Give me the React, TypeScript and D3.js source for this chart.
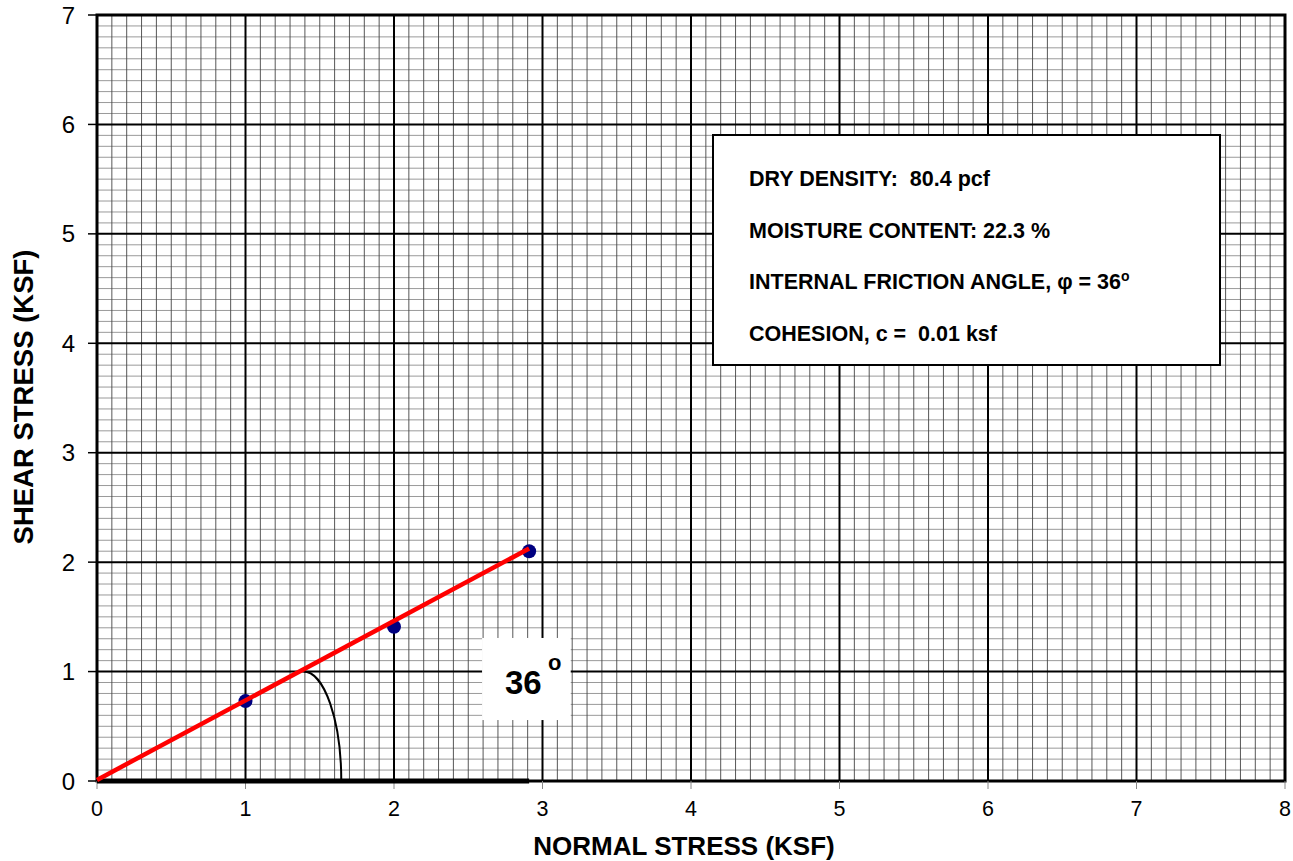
import React from "react";
import * as d3 from "d3";

// Direct shear test results
const normalStress = [1.0, 2.0, 2.91]; // ksf
const shearStress = [0.73, 1.41, 2.1]; // ksf
const frictionAngleDeg = 36;
const cohesion = 0.01; // ksf
const xTicks = [0, 1, 2, 3, 4, 5, 6, 7, 8];
const yTicks = [0, 1, 2, 3, 4, 5, 6, 7];
const infoLines = [
  "DRY DENSITY:  80.4 pcf",
  "MOISTURE CONTENT: 22.3 %",
  "INTERNAL FRICTION ANGLE, \u03c6 = 36",
  "COHESION, c =  0.01 ksf",
];

const W = 1293;
const H = 861;
const FONT = "Arial, 'Liberation Sans', Helvetica, sans-serif";

export default function App() {
  const x = d3.scaleLinear().domain([0, 8]).range([97, 1285]);
  const y = d3.scaleLinear().domain([0, 7]).range([781, 15]);

  const minorX = d3.range(0, 80 + 1).map((i) => i / 10).filter((v) => Math.abs(v - Math.round(v)) > 1e-6);
  const minorY = d3.range(0, 70 + 1).map((i) => i / 10).filter((v) => Math.abs(v - Math.round(v)) > 1e-6);

  const tanPhi = Math.tan((frictionAngleDeg * Math.PI) / 180);
  const xEnd = d3.max(normalStress) as number;
  const envelope = d3
    .line<number>()
    .x((d) => x(d))
    .y((d) => y(cohesion + d * tanPhi));

  // angle arc marker near the envelope
  const arcCx = 1.39;
  const arcRx = x(0.255) - x(0);
  const arcRy = y(0) - y(1.0);
  const arcPath = `M${x(arcCx)},${y(1.0)} A${arcRx},${arcRy} 0 0 1 ${x(arcCx + 0.255)},${y(0)}`;

  const pre = { whiteSpace: "pre" as const };

  return (
    <svg width={W} height={H} style={{ display: "block", position: "absolute", left: 0, top: 0 }} fontFamily={FONT}>
      <rect x={0} y={0} width={W} height={H} fill="#fff" />
      {/* minor grid */}
      {minorY.map((v) => (
        <line key={"my" + v} x1={x(0)} x2={x(8)} y1={y(v)} y2={y(v)} stroke="#9a9a9a" strokeWidth={1} />
      ))}
      {minorX.map((v) => (
        <line key={"mx" + v} x1={x(v)} x2={x(v)} y1={y(0)} y2={y(7)} stroke="#444" strokeWidth={0.9} />
      ))}
      {/* major grid */}
      {yTicks.map((v) => (
        <line key={"gy" + v} x1={x(0)} x2={x(8)} y1={y(v)} y2={y(v)} stroke="#000" strokeWidth={2} />
      ))}
      {xTicks.map((v) => (
        <line key={"gx" + v} x1={x(v)} x2={x(v)} y1={y(0)} y2={y(7)} stroke="#000" strokeWidth={2} />
      ))}
      {/* plot frame */}
      <rect x={x(0)} y={y(7)} width={x(8) - x(0)} height={y(0) - y(7)} fill="none" stroke="#000" strokeWidth={3} />
      {/* ticks */}
      {yTicks.map((v) => (
        <line key={"ty" + v} x1={x(0) - 9} x2={x(0)} y1={y(v)} y2={y(v)} stroke="#000" strokeWidth={1.5} />
      ))}
      {xTicks.map((v) => (
        <line key={"tx" + v} x1={x(v)} x2={x(v)} y1={y(0)} y2={y(0) + 8} stroke="#888" strokeWidth={1} />
      ))}
      {yTicks.map((v) => (
        <text key={"ly" + v} x={75} y={y(v)} dy="0.36em" textAnchor="end" fontSize={24}>
          {v}
        </text>
      ))}
      {xTicks.map((v) => (
        <text key={"lx" + v} x={x(v)} y={816} textAnchor="middle" fontSize={21.5}>
          {v}
        </text>
      ))}
      {/* axis titles */}
      <text x={684} y={855} textAnchor="middle" fontSize={26} fontWeight="bold">
        NORMAL STRESS (KSF)
      </text>
      <text transform={`translate(33,397) rotate(-90)`} textAnchor="middle" fontSize={27.5} fontWeight="bold">
        SHEAR STRESS (KSF)
      </text>

      {/* baseline under the envelope */}
      <line x1={x(0)} x2={x(xEnd)} y1={y(0)} y2={y(0)} stroke="#000" strokeWidth={5} />
      {/* angle arc */}
      <path d={arcPath} fill="none" stroke="#000" strokeWidth={2} />

      {/* failure envelope */}
      {normalStress.map((v, i) => (
        <circle key={"p" + i} cx={x(v)} cy={y(shearStress[i])} r={7} fill="#000080" />
      ))}
      <path d={envelope([0, xEnd]) as string} fill="none" stroke="#ff0000" strokeWidth={4.5} />

      {/* angle label */}
      <rect x={x(2.593)} y={y(1.307)} width={x(3.19) - x(2.593)} height={y(0.557) - y(1.307)} fill="#fff" />
      <text x={505} y={694} fontSize={33} fontWeight="bold">
        {frictionAngleDeg}
      </text>
      <text x={548} y={670} fontSize={22} fontWeight="bold">
        o
      </text>

      {/* test summary */}
      <rect x={713} y={135} width={507} height={230} fill="#fff" stroke="#000" strokeWidth={2} />
      {infoLines.map((t, i) => (
        <text key={"info" + i} x={749} y={186 + i * 51.5} fontSize={21.5} fontWeight="bold" style={pre}>
          {t}
          {i === 2 ? (
            <tspan fontSize={14} dy={-8}>
              o
            </tspan>
          ) : null}
        </text>
      ))}
    </svg>
  );
}
